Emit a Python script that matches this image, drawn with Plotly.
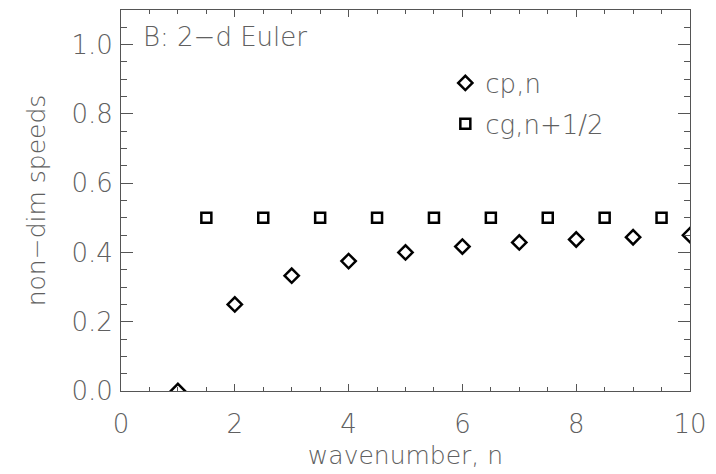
import plotly.graph_objects as go

# phase speed at integer wavenumbers n
n_phase = [1, 2, 3, 4, 5, 6, 7, 8, 9, 10]
c_phase = [0.0, 0.25, 0.333, 0.375, 0.40, 0.417, 0.429, 0.4375, 0.444, 0.45]

# group speed at half-integer wavenumbers n+1/2
n_group = [1.5, 2.5, 3.5, 4.5, 5.5, 6.5, 7.5, 8.5, 9.5]
c_group = [0.5, 0.5, 0.5, 0.5, 0.5, 0.5, 0.5, 0.5, 0.5]

x_ticks = [0, 2, 4, 6, 8, 10]
y_ticks = [0.0, 0.2, 0.4, 0.6, 0.8, 1.0]

FONT = "DejaVu Sans"
TEXT = "#606060"
AXIS = "#555555"


def font(size):
    return dict(family=FONT, size=size, color=TEXT, weight=200)


fig = go.Figure()
fig.add_trace(go.Scatter(
    x=n_phase, y=c_phase, mode="markers", name="cp,n", legendgroup="cp",
    marker=dict(symbol="diamond-open", size=11, color="black",
                line=dict(width=2.5, color="black")),
))
fig.add_trace(go.Scatter(
    x=n_group, y=c_group, mode="markers", name="cg,n+1/2", legendgroup="cg",
    marker=dict(symbol="square-open", size=10, color="black",
                line=dict(width=2.5, color="black")),
))

axis_common = dict(
    showgrid=False, zeroline=False, showline=True, linecolor=AXIS, linewidth=1,
    mirror="ticks", ticks="inside", tickcolor=AXIS, tickwidth=1,
    tickfont=font(26),
)

fig.update_xaxes(
    **axis_common, range=[0, 10], tickvals=x_ticks, ticklen=7,
    ticklabelstandoff=10,
    minor=dict(dtick=0.5, ticklen=4, tickcolor=AXIS, ticks="inside"),
    title=dict(text="wavenumber, n", font=font(25), standoff=8),
)
fig.update_yaxes(
    **axis_common, range=[0, 1.1], tickvals=y_ticks, tickformat=".1f", ticklen=12,
    ticklabelstandoff=2,
    minor=dict(dtick=0.05, ticklen=6, tickcolor=AXIS, ticks="inside"),
    title=dict(text="non−dim speeds", font=font(25), standoff=18),
)

fig.add_annotation(
    text="B: 2−d Euler", xref="paper", yref="paper", x=0.035, y=0.93,
    xanchor="left", yanchor="middle", showarrow=False, font=font(26),
)

fig.update_layout(
    width=716, height=474,
    margin=dict(l=121, r=22, t=9, b=83),
    paper_bgcolor="white", plot_bgcolor="white",
    legend=dict(x=0.57, y=0.87, xanchor="left", yanchor="top",
                bgcolor="rgba(0,0,0,0)", traceorder="grouped",
                tracegroupgap=4, font=font(26)),
)

fig.write_html("out.html")
